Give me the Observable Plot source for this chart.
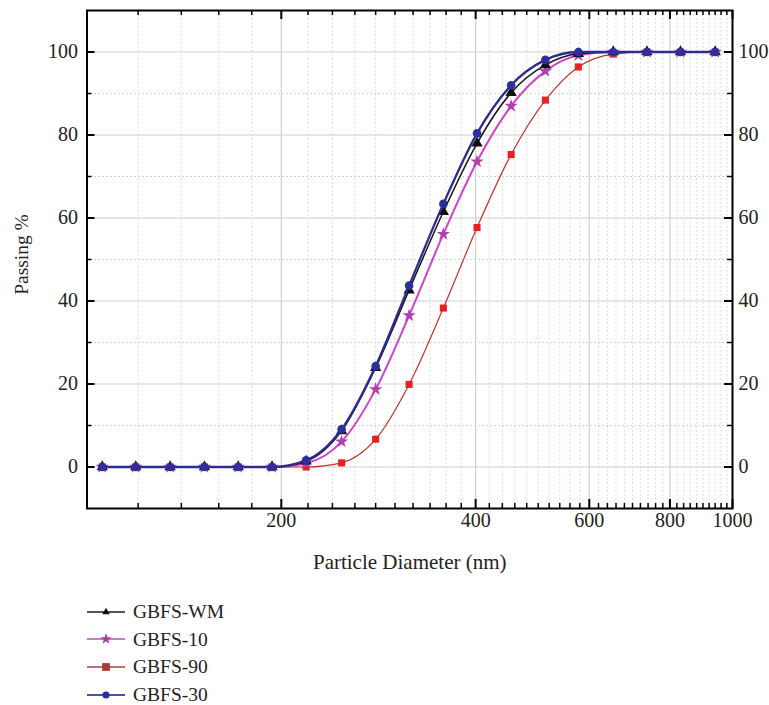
<!DOCTYPE html>
<html><head><meta charset="utf-8">
<script src="https://cdn.jsdelivr.net/npm/d3@7"></script>
<script src="https://cdn.jsdelivr.net/npm/@observablehq/plot@0.6"></script>
<style>
body{margin:0;background:#fff;font-family:"Liberation Serif",serif;color:#222;overflow:hidden;}
#chart svg{display:block;}
#legend{padding-top:13px;}
.row{display:flex;align-items:center;height:27.6px;font-size:19.5px;line-height:1;}
.row svg{margin-left:86px;margin-right:7px;}
</style></head><body><div id="chart"></div><div id="legend"></div>
<script>
// Particle diameter (nm) of each measured point
const diameter = [105.6, 119, 134.5, 152, 171.5, 193.5, 218.5, 248, 280, 315.5, 356.5, 402, 454, 513, 577, 653.5, 737, 830.5, 940];
// Cumulative passing (%)
const gbfsWM = [0, 0, 0, 0, 0, 0, 1.4, 8.7, 23.9, 42.6, 61.5, 78.0, 90.2, 96.9, 99.6, 100, 100, 100, 100];
const gbfs10 = [0, 0, 0, 0, 0, 0, 0.9, 6.1, 18.7, 36.5, 56.1, 73.6, 87.0, 95.4, 99.2, 100, 100, 100, 100];
const gbfs90 = [0, 0, 0, 0, 0, 0, 0, 1.0, 6.7, 19.9, 38.3, 57.7, 75.3, 88.4, 96.4, 99.5, 100, 100, 100];
const gbfs30 = [0, 0, 0, 0, 0, 0, 1.6, 9.1, 24.3, 43.7, 63.4, 80.4, 92.0, 98.1, 100, 100, 100, 100, 100];

const seriesNames = ["GBFS-WM", "GBFS-10", "GBFS-90", "GBFS-30"];
const xMajorTicks = [200, 400, 600, 800, 1000];
const xMinorTicks = [120,140,160,180,220,240,260,280,300,320,340,360,380,420,440,460,480,500,520,540,560,580,620,640,660,680,700,720,740,760,780,820,840,860,880,900,920,940,960,980];
const yMajorTicks = [0, 20, 40, 60, 80, 100];
const yMinorTicks = [10, 30, 50, 70, 90];
const xLabel = "Particle Diameter (nm)";
const yLabel = "Passing %";

const seriesValues = {"GBFS-WM": gbfsWM, "GBFS-10": gbfs10, "GBFS-90": gbfs90, "GBFS-30": gbfs30};
const look = {
  "GBFS-WM": {line: "#151515", lw: 1.5, fill: "#111", symbol: "triangle", r: 4.2, legLine: "#555", legFill: "#111"},
  "GBFS-10": {line: "#d044c8", lw: 2, fill: "#b040b0", symbol: "star", r: 4.2, legLine: "#c47cc4", legFill: "#a040a0"},
  "GBFS-90": {line: "#c8302c", lw: 1.2, fill: "#e82020", symbol: "square", r: 4.0, legLine: "#c0706a", legFill: "#a83a34"},
  "GBFS-30": {line: "#2c2c90", lw: 2.3, fill: "#2f2f9c", symbol: "circle", r: 4.3, legLine: "#5050a8", legFill: "#2f2f9c"}
};
const rows = seriesNames.flatMap(s => diameter.map((d, i) => ({series: s, d, v: seriesValues[s][i]})));

const W = 769, H = 585, mL = 86.5, mR = 37, mT = 10, mB = 77;
const pW = W - mL - mR, pH = H - mT - mB;
const drawOrder = ["GBFS-90", "GBFS-10", "GBFS-WM", "GBFS-30"];

const marks = [
  Plot.gridY(yMinorTicks, {y: d => d, stroke: "#c8c8c8", strokeOpacity: 1, strokeDasharray: "1.5,2.5"}),
  Plot.gridX(xMinorTicks, {x: d => d, stroke: "#d4d4d4", strokeOpacity: 1, strokeDasharray: "1.5,2.5"}),
  Plot.gridY(yMajorTicks, {y: d => d, stroke: "#cfcfcf", strokeOpacity: 1, strokeWidth: 1.2}),
  Plot.gridX(xMajorTicks.slice(0, 4), {x: d => d, stroke: "#cfcfcf", strokeOpacity: 1, strokeWidth: 1.2})
];
for (const s of drawOrder) {
  const data = rows.filter(r => r.series === s);
  const L = look[s];
  marks.push(Plot.line(data, {x: "d", y: "v", stroke: L.line, strokeWidth: L.lw, curve: "monotone-x"}));
  marks.push(Plot.dot(data, {x: "d", y: "v", symbol: () => L.symbol, r: L.r, fill: L.fill, stroke: "none"}));
}
marks.push(
  Plot.frame({stroke: "#000", strokeWidth: 2}),
  // inward ticks
  Plot.ruleX(xMajorTicks, {x: d => d, insetTop: pH - 9, stroke: "#000", strokeWidth: 2}),
  Plot.ruleX(xMajorTicks, {x: d => d, insetBottom: pH - 9, stroke: "#000", strokeWidth: 2}),
  Plot.ruleX(xMinorTicks, {x: d => d, insetTop: pH - 5, stroke: "#000", strokeWidth: 1.5}),
  Plot.ruleX(xMinorTicks, {x: d => d, insetBottom: pH - 5, stroke: "#000", strokeWidth: 1.5}),
  Plot.ruleY(yMajorTicks, {y: d => d, insetRight: pW - 8, stroke: "#000", strokeWidth: 2}),
  Plot.ruleY(yMajorTicks, {y: d => d, insetLeft: pW - 8, stroke: "#000", strokeWidth: 2}),
  Plot.ruleY(yMinorTicks, {y: d => d, insetRight: pW - 5, stroke: "#000", strokeWidth: 1.5}),
  Plot.ruleY(yMinorTicks, {y: d => d, insetLeft: pW - 5, stroke: "#000", strokeWidth: 1.5}),
  // tick labels
  Plot.axisX(xMajorTicks, {anchor: "bottom", tickSize: 0, tickPadding: 4, label: null, tickFormat: d => `${d}`}),
  Plot.axisY(yMajorTicks, {anchor: "left", tickSize: 0, tickPadding: 9, label: null, tickFormat: d => `${d}`}),
  Plot.axisY(yMajorTicks, {anchor: "right", tickSize: 0, tickPadding: 6, label: null, tickFormat: d => `${d}`}),
  Plot.text([xLabel], {frameAnchor: "bottom", dy: 54, lineAnchor: "middle", textAnchor: "middle", fontSize: 21, text: d => d}),
  Plot.text([yLabel], {frameAnchor: "left", rotate: -90, dx: -65, dy: -5, textAnchor: "middle", lineAnchor: "middle", fontSize: 19.5, text: d => d})
);

const chart = Plot.plot({
  width: W, height: H,
  marginLeft: mL, marginRight: mR, marginTop: mT, marginBottom: mB,
  x: {type: "log", domain: [100, 1000]},
  y: {domain: [-10, 110]},
  style: {fontFamily: '"Liberation Serif", serif', fontSize: "20px", color: "#222", background: "#fff"},
  marks
});
document.getElementById("chart").appendChild(chart);

// legend
const leg = d3.select("#legend");
for (const s of seriesNames) {
  const L = look[s];
  const row = leg.append("div").attr("class", "row");
  const svg = row.append("svg").attr("width", 40).attr("height", 16);
  svg.append("line").attr("x1", 1).attr("x2", 39).attr("y1", 8).attr("y2", 8).attr("stroke", L.legLine).attr("stroke-width", 2);
  const sym = {triangle: d3.symbolTriangle2, star: d3.symbolStar, square: d3.symbolSquare, circle: d3.symbolCircle}[L.symbol];
  svg.append("path").attr("transform", "translate(20,8)").attr("d", d3.symbol(sym, L.symbol === "square" ? 60 : 40)()).attr("fill", L.legFill);
  row.append("span").text(s);
}
</script></body></html>
